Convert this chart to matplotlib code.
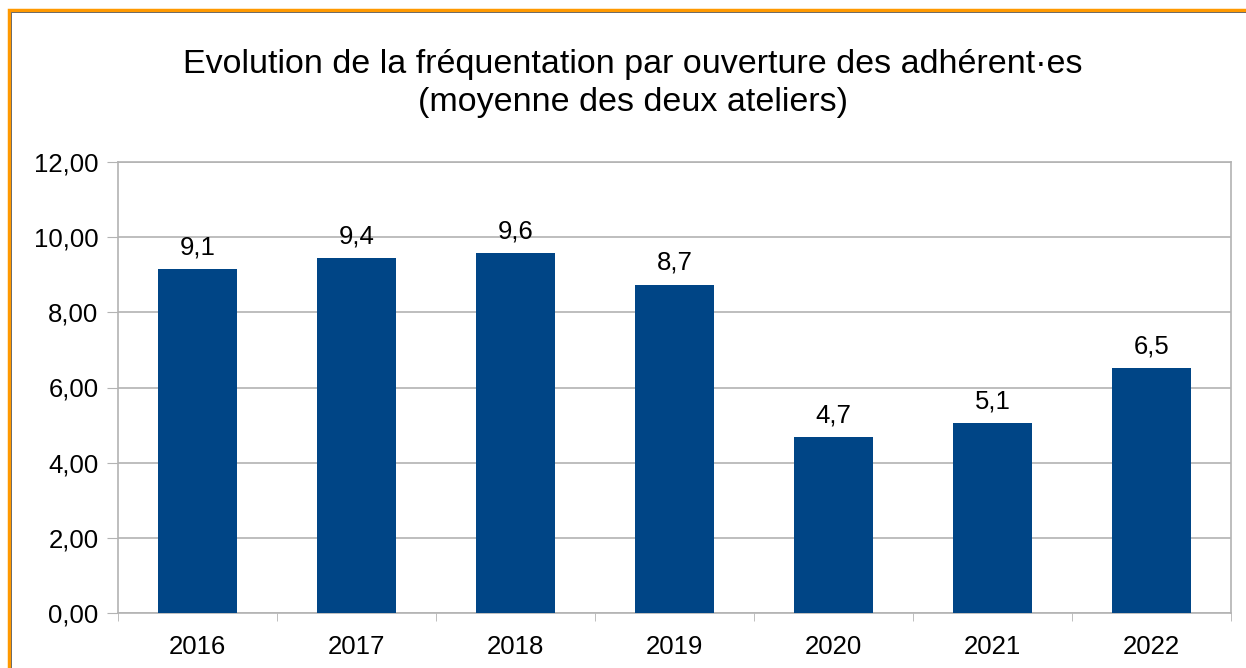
import matplotlib
matplotlib.use("Agg")
from matplotlib import pyplot as plt
from matplotlib.patches import Rectangle

years = ["2016", "2017", "2018", "2019", "2020", "2021", "2022"]
values = [9.15, 9.45, 9.58, 8.74, 4.68, 5.06, 6.52]
labels = ["9,1", "9,4", "9,6", "8,7", "4,7", "5,1", "6,5"]
yticks = [0, 2, 4, 6, 8, 10, 12]

plt.rcParams['font.family'] = ['Liberation Sans', 'DejaVu Sans']

fig = plt.figure(figsize=(12.46, 6.68), dpi=100)
ax = fig.add_axes([118/1246, 1 - 613/668, (1231 - 118)/1246, (613 - 162)/668])

x = list(range(len(years)))
bars = ax.bar(x, values, width=0.5, color="#004586", zorder=3)
for b, lab in zip(bars, labels):
    ax.annotate(lab, (b.get_x() + b.get_width()/2, b.get_height()),
                xytext=(0, 7), textcoords="offset points",
                ha="center", va="bottom", fontsize=18.5)

ax.set_xlim(-0.5, len(years) - 0.5)
ax.set_ylim(0, 12)
ax.set_yticks(yticks)
ax.set_yticklabels([f"{v:.2f}".replace(".", ",") for v in yticks], fontsize=18.5)
ax.set_xticks(x)
ax.set_xticklabels(years, fontsize=18.5)
ax.set_xticks([i - 0.5 for i in range(len(years) + 1)], minor=True)
ax.tick_params(axis="x", which="major", length=0, pad=16)
ax.tick_params(axis="x", which="minor", length=6, color="#b3b3b3", direction="out")
ax.tick_params(axis="y", length=8, color="#b3b3b3", pad=6)
ax.grid(axis="y", color="#b3b3b3", linewidth=1.2, zorder=0)
for s in ax.spines.values():
    s.set_color("#b3b3b3")
    s.set_linewidth(1.2)

fig.text(633/1246, 1 - 65/668, "Evolution de la fréquentation par ouverture des adhérent·es",
         ha="center", va="center", fontsize=24.5)
fig.text(633/1246, 1 - 103/668, "(moyenne des deux ateliers)",
         ha="center", va="center", fontsize=24.5)

# orange frame along top and left edges
fig.patches.append(Rectangle((9/1246, -0.1), 1.2, 1 - 10/668 + 0.1, transform=fig.transFigure,
                             fill=False, edgecolor="#ff9900", linewidth=2.5))
fig.patches.append(Rectangle((11/1246, -0.1), 1.2, 1 - 12/668 + 0.1, transform=fig.transFigure,
                             fill=False, edgecolor="#555555", linewidth=0.6))

fig.savefig("out.png", dpi=100)
